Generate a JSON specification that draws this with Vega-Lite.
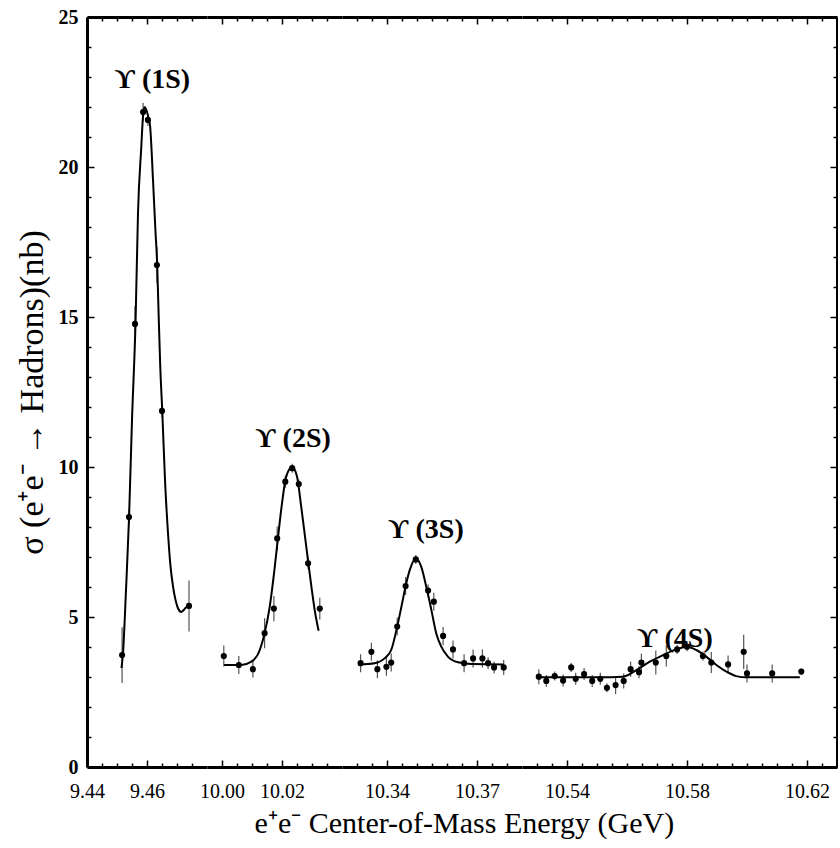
{
  "$schema": "https://vega.github.io/schema/vega-lite/v6.json",
  "padding": {"left": 15, "top": 7, "right": 0, "bottom": 5},
  "spacing": 0,
  "bounds": "flush",
  "title": {"text": "e⁺e⁻ Center-of-Mass Energy (GeV)", "orient": "bottom", "anchor": "middle", "font": "Liberation Serif, Times New Roman, serif", "fontSize": 30, "fontWeight": "normal", "color": "black", "offset": 8, "dx": 38},
  "config": {
    "view": {"stroke": null},
    "axis": {"domainColor": "black", "domainWidth": 3, "tickColor": "black", "tickWidth": 1.5, "labelFont": "Liberation Serif, Times New Roman, serif", "labelFontSize": 20, "labelColor": "black", "grid": false, "labelFlush": false, "labelOverlap": false, "title": null}
  },
  "datasets": {
    "pts": [
      {"seg": 1, "E": 9.4517, "s": 3.73, "err": 0.93},
      {"seg": 1, "E": 9.4540, "s": 8.33, "err": 0.25},
      {"seg": 1, "E": 9.4560, "s": 14.77, "err": 0.6},
      {"seg": 1, "E": 9.4587, "s": 21.83, "err": 0.3},
      {"seg": 1, "E": 9.4603, "s": 21.57, "err": 0.2},
      {"seg": 1, "E": 9.4633, "s": 16.73, "err": 0.6},
      {"seg": 1, "E": 9.4650, "s": 11.87, "err": 0.2},
      {"seg": 1, "E": 9.4740, "s": 5.37, "err": 0.85},
      {"seg": 2, "E": 10.0006, "s": 3.70, "err": 0.35},
      {"seg": 2, "E": 10.0056, "s": 3.40, "err": 0.3},
      {"seg": 2, "E": 10.0103, "s": 3.26, "err": 0.28},
      {"seg": 2, "E": 10.0142, "s": 4.46, "err": 0.5},
      {"seg": 2, "E": 10.0173, "s": 5.28, "err": 0.42},
      {"seg": 2, "E": 10.0184, "s": 7.62, "err": 0.4},
      {"seg": 2, "E": 10.0211, "s": 9.51, "err": 0.2},
      {"seg": 2, "E": 10.0234, "s": 9.96, "err": 0.15},
      {"seg": 2, "E": 10.0256, "s": 9.43, "err": 0.15},
      {"seg": 2, "E": 10.0287, "s": 6.79, "err": 0.2},
      {"seg": 2, "E": 10.0326, "s": 5.28, "err": 0.36},
      {"seg": 3, "E": 10.3312, "s": 3.46, "err": 0.3},
      {"seg": 3, "E": 10.3348, "s": 3.84, "err": 0.3},
      {"seg": 3, "E": 10.3368, "s": 3.26, "err": 0.3},
      {"seg": 3, "E": 10.3398, "s": 3.34, "err": 0.3},
      {"seg": 3, "E": 10.3414, "s": 3.48, "err": 0.3},
      {"seg": 3, "E": 10.3434, "s": 4.68, "err": 0.3},
      {"seg": 3, "E": 10.3462, "s": 6.03, "err": 0.3},
      {"seg": 3, "E": 10.3496, "s": 6.92, "err": 0.15},
      {"seg": 3, "E": 10.3537, "s": 5.88, "err": 0.2},
      {"seg": 3, "E": 10.3556, "s": 5.51, "err": 0.3},
      {"seg": 3, "E": 10.3587, "s": 4.37, "err": 0.3},
      {"seg": 3, "E": 10.3620, "s": 3.92, "err": 0.3},
      {"seg": 3, "E": 10.3657, "s": 3.46, "err": 0.3},
      {"seg": 3, "E": 10.3687, "s": 3.62, "err": 0.3},
      {"seg": 3, "E": 10.3718, "s": 3.62, "err": 0.3},
      {"seg": 3, "E": 10.3737, "s": 3.46, "err": 0.2},
      {"seg": 3, "E": 10.3757, "s": 3.32, "err": 0.2},
      {"seg": 3, "E": 10.3789, "s": 3.32, "err": 0.25},
      {"seg": 4, "E": 10.5306, "s": 3.01, "err": 0.25},
      {"seg": 4, "E": 10.5331, "s": 2.87, "err": 0.2},
      {"seg": 4, "E": 10.5359, "s": 3.03, "err": 0.15},
      {"seg": 4, "E": 10.5387, "s": 2.88, "err": 0.2},
      {"seg": 4, "E": 10.5414, "s": 3.32, "err": 0.15},
      {"seg": 4, "E": 10.5429, "s": 2.94, "err": 0.2},
      {"seg": 4, "E": 10.5457, "s": 3.10, "err": 0.2},
      {"seg": 4, "E": 10.5484, "s": 2.87, "err": 0.2},
      {"seg": 4, "E": 10.5511, "s": 2.94, "err": 0.2},
      {"seg": 4, "E": 10.5533, "s": 2.64, "err": 0.15},
      {"seg": 4, "E": 10.5562, "s": 2.73, "err": 0.3},
      {"seg": 4, "E": 10.5589, "s": 2.87, "err": 0.25},
      {"seg": 4, "E": 10.5612, "s": 3.26, "err": 0.25},
      {"seg": 4, "E": 10.5640, "s": 3.16, "err": 0.2},
      {"seg": 4, "E": 10.5648, "s": 3.48, "err": 0.3},
      {"seg": 4, "E": 10.5696, "s": 3.48, "err": 0.4},
      {"seg": 4, "E": 10.5731, "s": 3.70, "err": 0.35},
      {"seg": 4, "E": 10.5767, "s": 3.92, "err": 0.15},
      {"seg": 4, "E": 10.5800, "s": 4.01, "err": 0.15},
      {"seg": 4, "E": 10.5853, "s": 3.70, "err": 0.15},
      {"seg": 4, "E": 10.5881, "s": 3.48, "err": 0.35},
      {"seg": 4, "E": 10.5937, "s": 3.42, "err": 0.3},
      {"seg": 4, "E": 10.5989, "s": 3.84, "err": 0.57},
      {"seg": 4, "E": 10.6000, "s": 3.12, "err": 0.3},
      {"seg": 4, "E": 10.6084, "s": 3.12, "err": 0.3},
      {"seg": 4, "E": 10.6181, "s": 3.18, "err": 0.1}
    ],
    "fit": [
      {"seg": 1, "E": 9.4515, "s": 3.30},
      {"seg": 1, "E": 9.4520, "s": 3.80},
      {"seg": 1, "E": 9.4530, "s": 5.90},
      {"seg": 1, "E": 9.4540, "s": 8.27},
      {"seg": 1, "E": 9.4550, "s": 11.57},
      {"seg": 1, "E": 9.4562, "s": 14.9},
      {"seg": 1, "E": 9.4570, "s": 18.47},
      {"seg": 1, "E": 9.4581, "s": 20.67},
      {"seg": 1, "E": 9.4587, "s": 21.73},
      {"seg": 1, "E": 9.4592, "s": 22.0},
      {"seg": 1, "E": 9.4598, "s": 21.9},
      {"seg": 1, "E": 9.4605, "s": 21.63},
      {"seg": 1, "E": 9.4610, "s": 21.4},
      {"seg": 1, "E": 9.4620, "s": 19.57},
      {"seg": 1, "E": 9.4628, "s": 17.9},
      {"seg": 1, "E": 9.4634, "s": 16.73},
      {"seg": 1, "E": 9.4639, "s": 15.0},
      {"seg": 1, "E": 9.4644, "s": 13.4},
      {"seg": 1, "E": 9.4651, "s": 11.83},
      {"seg": 1, "E": 9.4660, "s": 9.57},
      {"seg": 1, "E": 9.4670, "s": 7.8},
      {"seg": 1, "E": 9.4678, "s": 6.73},
      {"seg": 1, "E": 9.4687, "s": 6.0},
      {"seg": 1, "E": 9.4695, "s": 5.57},
      {"seg": 1, "E": 9.4703, "s": 5.3},
      {"seg": 1, "E": 9.4714, "s": 5.17},
      {"seg": 1, "E": 9.4722, "s": 5.23},
      {"seg": 1, "E": 9.4728, "s": 5.3},
      {"seg": 1, "E": 9.4742, "s": 5.4},
      {"seg": 2, "E": 10.0007, "s": 3.40},
      {"seg": 2, "E": 10.0064, "s": 3.40},
      {"seg": 2, "E": 10.0098, "s": 3.51},
      {"seg": 2, "E": 10.0126, "s": 3.90},
      {"seg": 2, "E": 10.0142, "s": 4.46},
      {"seg": 2, "E": 10.0159, "s": 5.34},
      {"seg": 2, "E": 10.0176, "s": 6.68},
      {"seg": 2, "E": 10.0187, "s": 7.68},
      {"seg": 2, "E": 10.0200, "s": 8.79},
      {"seg": 2, "E": 10.0214, "s": 9.68},
      {"seg": 2, "E": 10.0234, "s": 10.0},
      {"seg": 2, "E": 10.0250, "s": 9.68},
      {"seg": 2, "E": 10.0264, "s": 8.68},
      {"seg": 2, "E": 10.0281, "s": 7.34},
      {"seg": 2, "E": 10.0298, "s": 6.01},
      {"seg": 2, "E": 10.0309, "s": 5.23},
      {"seg": 2, "E": 10.0322, "s": 4.54},
      {"seg": 3, "E": 10.3306, "s": 3.42},
      {"seg": 3, "E": 10.3359, "s": 3.46},
      {"seg": 3, "E": 10.3392, "s": 3.62},
      {"seg": 3, "E": 10.3414, "s": 3.90},
      {"seg": 3, "E": 10.3434, "s": 4.68},
      {"seg": 3, "E": 10.3448, "s": 5.34},
      {"seg": 3, "E": 10.3462, "s": 6.03},
      {"seg": 3, "E": 10.3476, "s": 6.57},
      {"seg": 3, "E": 10.3496, "s": 6.96},
      {"seg": 3, "E": 10.3514, "s": 6.68},
      {"seg": 3, "E": 10.3531, "s": 6.01},
      {"seg": 3, "E": 10.3548, "s": 5.23},
      {"seg": 3, "E": 10.3564, "s": 4.46},
      {"seg": 3, "E": 10.3581, "s": 4.01},
      {"seg": 3, "E": 10.3603, "s": 3.68},
      {"seg": 3, "E": 10.3637, "s": 3.49},
      {"seg": 3, "E": 10.3681, "s": 3.43},
      {"seg": 3, "E": 10.3789, "s": 3.42},
      {"seg": 4, "E": 10.5303, "s": 2.99},
      {"seg": 4, "E": 10.5503, "s": 2.99},
      {"seg": 4, "E": 10.5587, "s": 3.01},
      {"seg": 4, "E": 10.5631, "s": 3.23},
      {"seg": 4, "E": 10.5676, "s": 3.51},
      {"seg": 4, "E": 10.5720, "s": 3.73},
      {"seg": 4, "E": 10.5764, "s": 3.92},
      {"seg": 4, "E": 10.5800, "s": 4.01},
      {"seg": 4, "E": 10.5831, "s": 3.90},
      {"seg": 4, "E": 10.5864, "s": 3.68},
      {"seg": 4, "E": 10.5898, "s": 3.40},
      {"seg": 4, "E": 10.5931, "s": 3.18},
      {"seg": 4, "E": 10.5964, "s": 3.03},
      {"seg": 4, "E": 10.5998, "s": 2.99},
      {"seg": 4, "E": 10.6176, "s": 2.99}
    ],
    "lab": [
      {"seg": 1, "E": 9.4618, "s": 22.9, "t": "ϒ (1S)"},
      {"seg": 2, "E": 10.0237, "s": 10.95, "t": "ϒ (2S)"},
      {"seg": 3, "E": 10.353, "s": 7.9, "t": "ϒ (3S)"},
      {"seg": 4, "E": 10.576, "s": 4.27, "t": "ϒ (4S)"}
    ]
  },
  "hconcat": [
    {
      "width": 120, "height": 750,
      "resolve": {"axis": {"x": "independent", "y": "independent"}},
      "layer": [
        {"data": {"name": "pts"}, "transform": [{"filter": "datum.seg === 1"}],
         "mark": {"type": "errorbar", "color": "#555", "thickness": 1.2},
         "encoding": {
           "x": {"field": "E", "type": "quantitative", "scale": {"domain": [9.44, 9.48], "nice": false, "zero": false}, "axis": null},
           "y": {"field": "s", "type": "quantitative", "scale": {"domain": [0, 25], "nice": false}, "axis": null},
           "yError": {"field": "err"}
         }},
        {"data": {"name": "pts"}, "transform": [{"filter": "datum.seg === 1"}],
         "mark": {"type": "point", "filled": true, "color": "black", "size": 38, "opacity": 1},
         "encoding": {
           "x": {"field": "E", "type": "quantitative", "scale": {"domain": [9.44, 9.48], "nice": false, "zero": false},
                 "axis": {"orient": "bottom", "values": [9.44, 9.46], "format": ".2f", "ticks": false, "tickSize": 0, "domain": false, "labelPadding": 14}},
           "y": {"field": "s", "type": "quantitative", "scale": {"domain": [0, 25], "nice": false},
                 "axis": {"orient": "left", "values": [0, 5, 10, 15, 20, 25], "ticks": false, "tickSize": 0, "domain": false, "labelFontWeight": "bold", "labelPadding": 9,
                          "title": "σ (e⁺e⁻ → Hadrons)(nb)", "titleFont": "Liberation Serif, Times New Roman, serif", "titleFontSize": 34, "titleFontWeight": "normal", "titleColor": "black", "titlePadding": 9}}
         }},
        {"data": {"name": "fit"}, "transform": [{"filter": "datum.seg === 1"}],
         "mark": {"type": "line", "color": "black", "strokeWidth": 2, "interpolate": "monotone"},
         "encoding": {
           "x": {"field": "E", "type": "quantitative", "scale": {"domain": [9.44, 9.48], "nice": false, "zero": false},
                 "axis": {"orient": "top", "offset": -750, "values": [9.44, 9.445, 9.45, 9.455, 9.46, 9.465, 9.47, 9.475], "labels": false,
                          "tickSize": {"condition": {"test": "indexof([9.44, 9.46], datum.value) >= 0", "value": 7}, "value": 4}}},
           "y": {"field": "s", "type": "quantitative", "scale": {"domain": [0, 25], "nice": false},
                 "axis": {"orient": "right", "offset": -120, "values": [0,1,2,3,4,5,6,7,8,9,10,11,12,13,14,15,16,17,18,19,20,21,22,23,24,25], "labels": false,
                          "tickSize": {"condition": {"test": "datum.value % 5 === 0", "value": 7}, "value": 4}}}
         }},
        {"data": {"name": "lab"}, "transform": [{"filter": "datum.seg === 1"}],
         "mark": {"type": "text", "font": "Liberation Serif, Times New Roman, serif", "fontSize": 28, "fontWeight": "bold", "color": "black", "align": "center", "baseline": "middle"},
         "encoding": {
           "x": {"field": "E", "type": "quantitative", "scale": {"domain": [9.44, 9.48], "nice": false, "zero": false},
                 "axis": {"orient": "bottom", "offset": -750, "values": [9.44, 9.445, 9.45, 9.455, 9.46, 9.465, 9.47, 9.475], "labels": false,
                          "tickSize": {"condition": {"test": "indexof([9.44, 9.46], datum.value) >= 0", "value": 7}, "value": 4}}},
           "y": {"field": "s", "type": "quantitative", "scale": {"domain": [0, 25], "nice": false}, "axis": null},
           "text": {"field": "t"}
         }}
      ]
    },
    {
      "width": 135, "height": 750,
      "resolve": {"axis": {"x": "independent", "y": "independent"}},
      "layer": [
        {"data": {"name": "pts"}, "transform": [{"filter": "datum.seg === 2"}],
         "mark": {"type": "errorbar", "color": "#555", "thickness": 1.2},
         "encoding": {
           "x": {"field": "E", "type": "quantitative", "scale": {"domain": [9.995, 10.04], "nice": false, "zero": false}, "axis": null},
           "y": {"field": "s", "type": "quantitative", "scale": {"domain": [0, 25], "nice": false}, "axis": null},
           "yError": {"field": "err"}
         }},
        {"data": {"name": "pts"}, "transform": [{"filter": "datum.seg === 2"}],
         "mark": {"type": "point", "filled": true, "color": "black", "size": 38, "opacity": 1},
         "encoding": {
           "x": {"field": "E", "type": "quantitative", "scale": {"domain": [9.995, 10.04], "nice": false, "zero": false},
                 "axis": {"orient": "bottom", "values": [10.0, 10.02], "format": ".2f", "ticks": false, "tickSize": 0, "domain": false, "labelPadding": 14}},
           "y": {"field": "s", "type": "quantitative", "scale": {"domain": [0, 25], "nice": false}, "axis": null}
         }},
        {"data": {"name": "fit"}, "transform": [{"filter": "datum.seg === 2"}],
         "mark": {"type": "line", "color": "black", "strokeWidth": 2, "interpolate": "monotone"},
         "encoding": {
           "x": {"field": "E", "type": "quantitative", "scale": {"domain": [9.995, 10.04], "nice": false, "zero": false},
                 "axis": {"orient": "top", "offset": -750, "values": [10.0, 10.005, 10.01, 10.015, 10.02, 10.025, 10.03, 10.035], "labels": false,
                          "tickSize": {"condition": {"test": "indexof([10.0, 10.02], datum.value) >= 0", "value": 7}, "value": 4}}},
           "y": {"field": "s", "type": "quantitative", "scale": {"domain": [0, 25], "nice": false}, "axis": null}
         }},
        {"data": {"name": "lab"}, "transform": [{"filter": "datum.seg === 2"}],
         "mark": {"type": "text", "font": "Liberation Serif, Times New Roman, serif", "fontSize": 28, "fontWeight": "bold", "color": "black", "align": "center", "baseline": "middle"},
         "encoding": {
           "x": {"field": "E", "type": "quantitative", "scale": {"domain": [9.995, 10.04], "nice": false, "zero": false},
                 "axis": {"orient": "bottom", "offset": -750, "values": [10.0, 10.005, 10.01, 10.015, 10.02, 10.025, 10.03, 10.035], "labels": false,
                          "tickSize": {"condition": {"test": "indexof([10.0, 10.02], datum.value) >= 0", "value": 7}, "value": 4}}},
           "y": {"field": "s", "type": "quantitative", "scale": {"domain": [0, 25], "nice": false}, "axis": null},
           "text": {"field": "t"}
         }}
      ]
    },
    {
      "width": 180, "height": 750,
      "resolve": {"axis": {"x": "independent", "y": "independent"}},
      "layer": [
        {"data": {"name": "pts"}, "transform": [{"filter": "datum.seg === 3"}],
         "mark": {"type": "errorbar", "color": "#555", "thickness": 1.2},
         "encoding": {
           "x": {"field": "E", "type": "quantitative", "scale": {"domain": [10.325, 10.385], "nice": false, "zero": false}, "axis": null},
           "y": {"field": "s", "type": "quantitative", "scale": {"domain": [0, 25], "nice": false}, "axis": null},
           "yError": {"field": "err"}
         }},
        {"data": {"name": "pts"}, "transform": [{"filter": "datum.seg === 3"}],
         "mark": {"type": "point", "filled": true, "color": "black", "size": 38, "opacity": 1},
         "encoding": {
           "x": {"field": "E", "type": "quantitative", "scale": {"domain": [10.325, 10.385], "nice": false, "zero": false},
                 "axis": {"orient": "bottom", "values": [10.34, 10.37], "format": ".2f", "ticks": false, "tickSize": 0, "domain": false, "labelPadding": 14}},
           "y": {"field": "s", "type": "quantitative", "scale": {"domain": [0, 25], "nice": false}, "axis": null}
         }},
        {"data": {"name": "fit"}, "transform": [{"filter": "datum.seg === 3"}],
         "mark": {"type": "line", "color": "black", "strokeWidth": 2, "interpolate": "monotone"},
         "encoding": {
           "x": {"field": "E", "type": "quantitative", "scale": {"domain": [10.325, 10.385], "nice": false, "zero": false},
                 "axis": {"orient": "top", "offset": -750, "values": [10.33, 10.335, 10.34, 10.345, 10.35, 10.355, 10.36, 10.365, 10.37, 10.375, 10.38], "labels": false,
                          "tickSize": {"condition": {"test": "indexof([10.34, 10.37], datum.value) >= 0", "value": 7}, "value": 4}}},
           "y": {"field": "s", "type": "quantitative", "scale": {"domain": [0, 25], "nice": false}, "axis": null}
         }},
        {"data": {"name": "lab"}, "transform": [{"filter": "datum.seg === 3"}],
         "mark": {"type": "text", "font": "Liberation Serif, Times New Roman, serif", "fontSize": 28, "fontWeight": "bold", "color": "black", "align": "center", "baseline": "middle"},
         "encoding": {
           "x": {"field": "E", "type": "quantitative", "scale": {"domain": [10.325, 10.385], "nice": false, "zero": false},
                 "axis": {"orient": "bottom", "offset": -750, "values": [10.33, 10.335, 10.34, 10.345, 10.35, 10.355, 10.36, 10.365, 10.37, 10.375, 10.38], "labels": false,
                          "tickSize": {"condition": {"test": "indexof([10.34, 10.37], datum.value) >= 0", "value": 7}, "value": 4}}},
           "y": {"field": "s", "type": "quantitative", "scale": {"domain": [0, 25], "nice": false}, "axis": null},
           "text": {"field": "t"}
         }}
      ]
    },
    {
      "width": 315, "height": 750,
      "resolve": {"axis": {"x": "independent", "y": "independent"}},
      "layer": [
        {"data": {"name": "pts"}, "transform": [{"filter": "datum.seg === 4"}],
         "mark": {"type": "errorbar", "color": "#555", "thickness": 1.2},
         "encoding": {
           "x": {"field": "E", "type": "quantitative", "scale": {"domain": [10.525, 10.63], "nice": false, "zero": false}, "axis": null},
           "y": {"field": "s", "type": "quantitative", "scale": {"domain": [0, 25], "nice": false}, "axis": null},
           "yError": {"field": "err"}
         }},
        {"data": {"name": "pts"}, "transform": [{"filter": "datum.seg === 4"}],
         "mark": {"type": "point", "filled": true, "color": "black", "size": 38, "opacity": 1},
         "encoding": {
           "x": {"field": "E", "type": "quantitative", "scale": {"domain": [10.525, 10.63], "nice": false, "zero": false},
                 "axis": {"orient": "bottom", "values": [10.54, 10.58, 10.62], "format": ".2f", "ticks": false, "tickSize": 0, "domain": false, "labelPadding": 14}},
           "y": {"field": "s", "type": "quantitative", "scale": {"domain": [0, 25], "nice": false}, "axis": null}
         }},
        {"data": {"name": "fit"}, "transform": [{"filter": "datum.seg === 4"}],
         "mark": {"type": "line", "color": "black", "strokeWidth": 2, "interpolate": "monotone"},
         "encoding": {
           "x": {"field": "E", "type": "quantitative", "scale": {"domain": [10.525, 10.63], "nice": false, "zero": false},
                 "axis": {"orient": "top", "offset": -750, "values": [10.53, 10.535, 10.54, 10.545, 10.55, 10.555, 10.56, 10.565, 10.57, 10.575, 10.58, 10.585, 10.59, 10.595, 10.6, 10.605, 10.61, 10.615, 10.62, 10.625], "labels": false,
                          "tickSize": {"condition": {"test": "indexof([10.54, 10.58, 10.62], datum.value) >= 0", "value": 7}, "value": 4}}},
           "y": {"field": "s", "type": "quantitative", "scale": {"domain": [0, 25], "nice": false},
                 "axis": {"orient": "left", "offset": -315, "values": [0,1,2,3,4,5,6,7,8,9,10,11,12,13,14,15,16,17,18,19,20,21,22,23,24,25], "labels": false,
                          "tickSize": {"condition": {"test": "datum.value % 5 === 0", "value": 7}, "value": 4}}}
         }},
        {"data": {"name": "lab"}, "transform": [{"filter": "datum.seg === 4"}],
         "mark": {"type": "text", "font": "Liberation Serif, Times New Roman, serif", "fontSize": 28, "fontWeight": "bold", "color": "black", "align": "center", "baseline": "middle"},
         "encoding": {
           "x": {"field": "E", "type": "quantitative", "scale": {"domain": [10.525, 10.63], "nice": false, "zero": false},
                 "axis": {"orient": "bottom", "offset": -750, "values": [10.53, 10.535, 10.54, 10.545, 10.55, 10.555, 10.56, 10.565, 10.57, 10.575, 10.58, 10.585, 10.59, 10.595, 10.6, 10.605, 10.61, 10.615, 10.62, 10.625], "labels": false,
                          "tickSize": {"condition": {"test": "indexof([10.54, 10.58, 10.62], datum.value) >= 0", "value": 7}, "value": 4}}},
           "y": {"field": "s", "type": "quantitative", "scale": {"domain": [0, 25], "nice": false}, "axis": null},
           "text": {"field": "t"}
         }}
      ]
    }
  ]
}
